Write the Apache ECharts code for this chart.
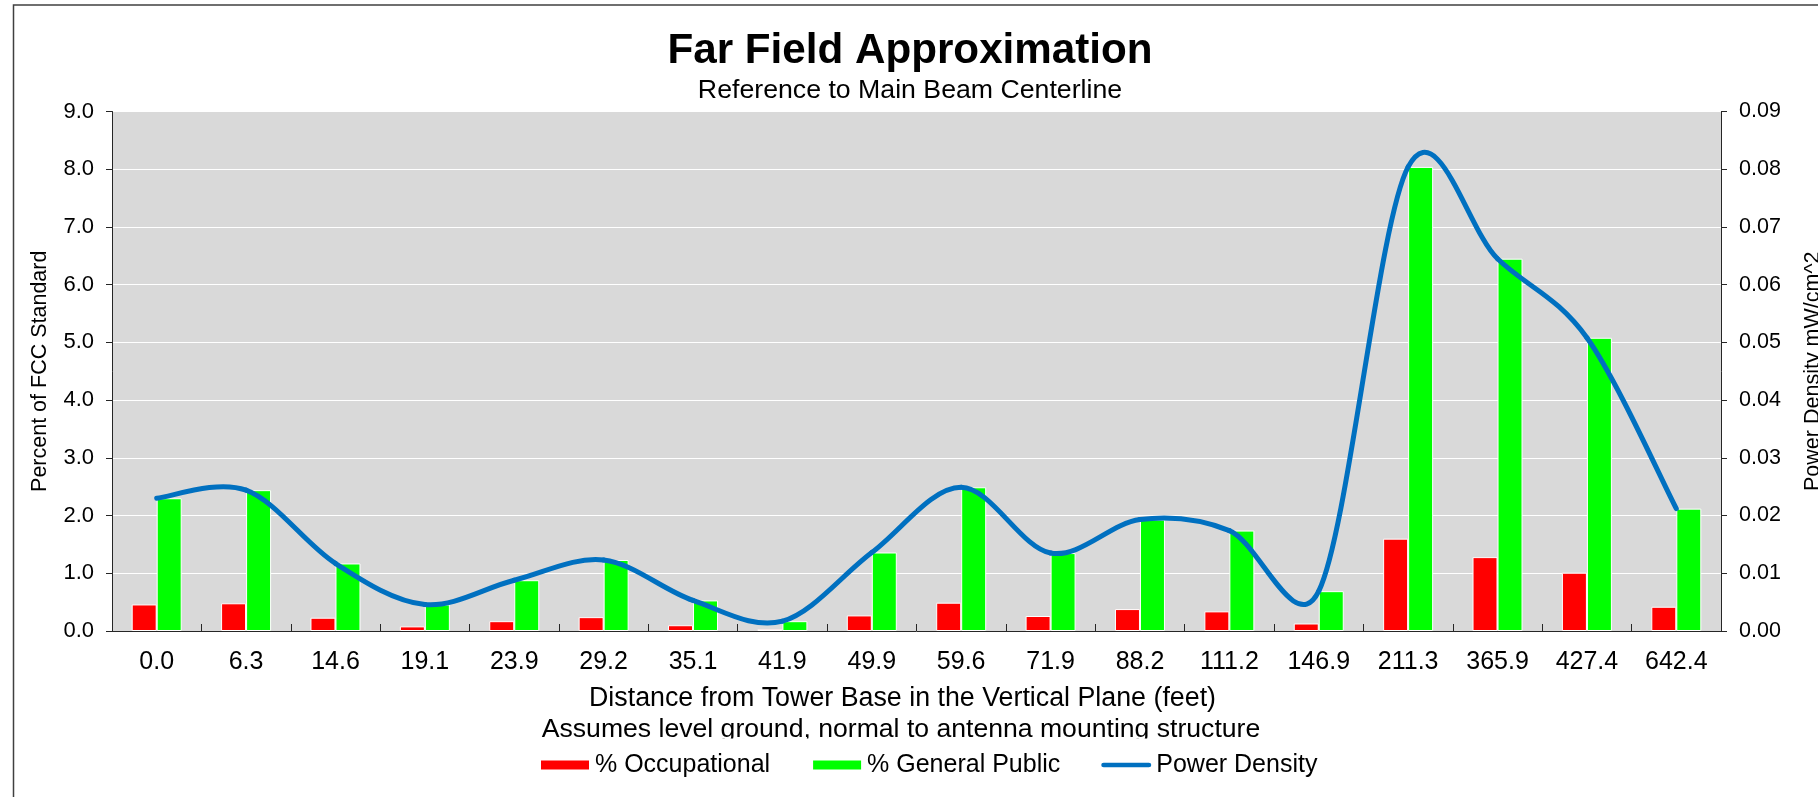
<!DOCTYPE html>
<html>
<head>
<meta charset="utf-8">
<script src="https://cdn.jsdelivr.net/npm/echarts@6/dist/echarts.min.js"></script>
<style>
html,body{margin:0;padding:0;background:#fff;}
#chart{width:1818px;height:797px;}
</style>
</head>
<body>
<div id="chart"></div>
<script>
const categories = ['0.0','6.3','14.6','19.1','23.9','29.2','35.1','41.9','49.9','59.6','71.9','88.2','111.2','146.9','211.3','365.9','427.4','642.4'];
const occupational = [0.46,0.48,0.23,0.08,0.17,0.24,0.10,0.03,0.27,0.49,0.26,0.38,0.34,0.13,1.60,1.28,1.01,0.42];
const generalPublic = [2.30,2.44,1.17,0.46,0.88,1.23,0.53,0.17,1.36,2.49,1.35,1.93,1.74,0.69,8.04,6.45,5.08,2.12];
const powerDensity = [0.0230,0.0244,0.0117,0.0046,0.0088,0.0123,0.0053,0.0017,0.0136,0.0249,0.0135,0.0193,0.0174,0.0069,0.0804,0.0645,0.0508,0.0212];
const leftTicks = {min:0, max:9, interval:1};
const rightTicks = {min:0, max:0.09, interval:0.01};

const FONT = 'Liberation Sans, Arial, sans-serif';
const LINE_COLOR = '#0070C0';

// Smoothed segment between consecutive points, positioned by the chart's own axes (api.coord)
function smoothSegment(params, api) {
  const n = powerDensity.length;
  const i = params.dataIndex;
  if (i >= n - 1) return null;
  const P = k => { const j = Math.max(0, Math.min(n - 1, k)); return api.coord([j, powerDensity[j]]); };
  const p0 = P(i - 1), p1 = P(i), p2 = P(i + 1), p3 = P(i + 2);
  const seg = Math.hypot(p2[0] - p1[0], p2[1] - p1[1]);
  function ctrl(prev, cur, next, sign) {
    const vx = next[0] - prev[0], vy = next[1] - prev[1];
    const vl = Math.hypot(vx, vy);
    if (vl === 0) return [cur[0], cur[1]];
    const len = Math.min(vl / 6, seg / 2);
    return [cur[0] + sign * vx / vl * len, cur[1] + sign * vy / vl * len];
  }
  const c1 = ctrl(p0, p1, p2, 1);
  const c2 = ctrl(p1, p2, p3, -1);
  return {
    type:'bezierCurve',
    shape:{x1:p1[0], y1:p1[1], cpx1:c1[0], cpy1:c1[1], cpx2:c2[0], cpy2:c2[1], x2:p2[0], y2:p2[1]},
    style:{stroke:LINE_COLOR, lineWidth:5, fill:null, lineCap:'round', lineJoin:'round'}
  };
}

const chart = echarts.init(document.getElementById('chart'), null, {renderer:'canvas'});
const option = {
  backgroundColor:'#ffffff',
  animation:false,
  title:[
    {text:'Far Field Approximation', left:910, top:30, textAlign:'center', padding:0,
     textStyle:{fontFamily:FONT, fontSize:42.2, fontWeight:'bold', color:'#000'}},
    {text:'Reference to Main Beam Centerline', left:910, top:77, textAlign:'center', padding:0,
     textStyle:{fontFamily:FONT, fontSize:26.7, fontWeight:'normal', color:'#000'}},
    {text:'Assumes level ground, normal to antenna mounting structure', left:901, top:716, textAlign:'center', padding:0,
     textStyle:{fontFamily:FONT, fontSize:26.6, fontWeight:'normal', color:'#000'}}
  ],
  grid:{left:112, right:97, top:111.5, bottom:166, show:true, backgroundColor:'#D9D9D9', borderWidth:0,
        containLabel:false, outerBoundsMode:'none'},
  legend:{
    left:539, top:752.5, padding:0, itemWidth:50, itemHeight:11, itemGap:41,
    textStyle:{fontFamily:FONT, fontSize:25, color:'#000'},
    data:[
      {name:'% Occupational', icon:'rect'},
      {name:'% General Public', icon:'rect'},
      {name:'Power Density', icon:'path://M2.5,0 L50.5,0 A2.5,2.5 0 0 1 50.5,5 L2.5,5 A2.5,2.5 0 0 1 2.5,0 Z'}
    ]
  },
  xAxis:{
    type:'category', data:categories, boundaryGap:true,
    name:'Distance from Tower Base in the Vertical Plane (feet)',
    nameLocation:'middle', nameGap:54,
    nameTextStyle:{fontFamily:FONT, fontSize:26.8, color:'#000', padding:[0,28,0,0]},
    axisLine:{show:true, lineStyle:{color:'#262626', width:1}},
    axisTick:{show:true, inside:true, length:7, alignWithLabel:false, lineStyle:{color:'#262626'}},
    axisLabel:{fontFamily:FONT, fontSize:25, color:'#000', margin:19},
    splitLine:{show:false}
  },
  yAxis:[
    {type:'value', min:leftTicks.min, max:leftTicks.max, interval:leftTicks.interval,
     name:'Percent of FCC Standard', nameLocation:'middle', nameGap:61,
     nameTextStyle:{fontFamily:FONT, fontSize:21.5, color:'#000'},
     axisLine:{show:true, lineStyle:{color:'#262626', width:1}},
     axisTick:{show:true, length:6, lineStyle:{color:'#262626'}},
     axisLabel:{fontFamily:FONT, fontSize:22, color:'#000', margin:18, formatter:v=>v.toFixed(1)},
     splitLine:{show:true, lineStyle:{color:'#ffffff', width:1.2}}
    },
    {type:'value', min:rightTicks.min, max:rightTicks.max, interval:rightTicks.interval,
     name:'Power Density mW/cm^2', nameLocation:'middle', nameGap:81,
     nameTextStyle:{fontFamily:FONT, fontSize:21.5, color:'#000'},
     axisLine:{show:true, lineStyle:{color:'#262626', width:1}},
     axisTick:{show:true, length:6, lineStyle:{color:'#262626'}},
     axisLabel:{fontFamily:FONT, fontSize:21.5, color:'#000', margin:18, formatter:v=>v.toFixed(2)},
     splitLine:{show:false}
    }
  ],
  series:[
    {name:'% Occupational', type:'bar', data:occupational, yAxisIndex:0, barWidth:25, barGap:'0%',
     itemStyle:{color:'#FF0000', borderColor:'#ffffff', borderWidth:1}},
    {name:'% General Public', type:'bar', data:generalPublic, yAxisIndex:0, barWidth:25, barGap:'0%',
     itemStyle:{color:'#00FF00', borderColor:'#ffffff', borderWidth:1}},
    {name:'Power Density', type:'custom', yAxisIndex:1, z:5,
     data:powerDensity.map((v, i) => [i, v]),
     encode:{x:0, y:1},
     renderItem:smoothSegment,
     itemStyle:{color:LINE_COLOR}}
  ],
  graphic:[
    {type:'rect', z:100, silent:true, shape:{x:520, y:738.5, width:780, height:10}, style:{fill:'#ffffff'}},
    {type:'rect', z:100, silent:true, shape:{x:13.5, y:5, width:1830, height:820}, style:{fill:'none', stroke:'#404040', lineWidth:1.5}}
  ]
};
chart.setOption(option);
</script>
</body>
</html>
